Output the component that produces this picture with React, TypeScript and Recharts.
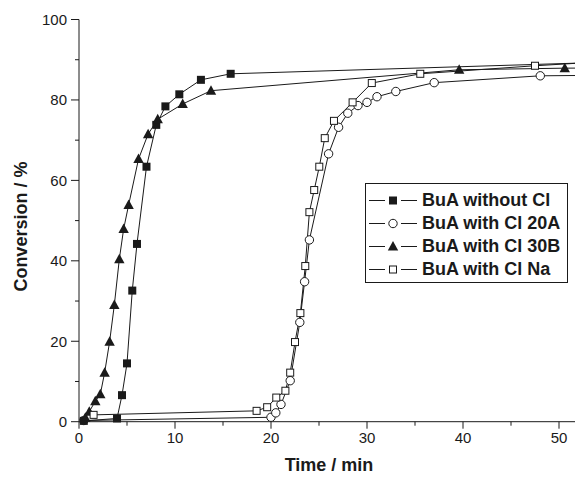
import React from 'react';
import { LineChart, Line, XAxis, YAxis, Legend } from 'recharts';

// time (min) / conversion (%); last point of each run lies past the right edge
const timeNoCl = [0.5, 3.96, 4.48, 5.0, 5.55, 6.04, 7.03, 8.05, 9.0, 10.45, 12.7, 15.8, 58];
const convNoCl = [0.2, 0.8, 6.6, 14.5, 32.6, 44.2, 63.4, 73.8, 78.4, 81.4, 85.0, 86.5, 89.6];

const time20A = [0.5, 20.0, 20.5, 21.04, 22.0, 23.0, 23.5, 24.0, 26.0, 27.04, 28.0, 29.06, 30.0, 31.04, 33.0, 37.0, 48.05, 58];
const conv20A = [0.3, 1.1, 2.2, 4.3, 10.2, 24.7, 34.8, 45.2, 66.6, 73.2, 76.7, 78.6, 79.4, 80.8, 82.1, 84.3, 86.0, 86.2];

const time30B = [0.66, 1.07, 1.7, 2.22, 2.67, 3.19, 3.68, 4.2, 4.65, 5.17, 6.2, 7.2, 8.2, 10.8, 13.75, 39.6, 50.6, 58];
const conv30B = [1.0, 2.5, 5.1, 6.8, 12.2, 19.9, 29.0, 40.4, 47.9, 53.9, 65.3, 71.5, 75.2, 79.0, 82.3, 87.5, 87.9, 88.0];

const timeNa = [1.52, 18.5, 19.6, 20.55, 21.5, 22.0, 22.5, 23.06, 23.57, 24.0, 24.5, 25.03, 25.6, 26.56, 28.5, 30.5, 35.55, 47.5, 58];
const convNa = [1.7, 2.7, 3.6, 6.0, 7.7, 12.2, 19.8, 27.0, 38.7, 52.1, 57.6, 63.4, 70.5, 74.8, 79.4, 84.2, 86.5, 88.5, 90.0];

const xTicks = [0, 5, 10, 15, 20, 25, 30, 35, 40, 45, 50, 55];
const yTicks = [0, 10, 20, 30, 40, 50, 60, 70, 80, 90, 100];

const FONT = '"Liberation Sans", Arial, Helvetica, sans-serif';
const INK = '#1a1a1a';

const toPoints = (xs: number[], ys: number[]) => xs.map((t, i) => ({ t, c: ys[i] }));

type Shape = 'filledSquare' | 'circle' | 'triangle' | 'openSquare';

function Marker({ cx, cy, shape }: { cx: number; cy: number; shape: Shape }) {
    if (shape === 'filledSquare') {
        return <rect x={cx - 4} y={cy - 4} width={8} height={8} fill={INK} />;
    }
    if (shape === 'openSquare') {
        return <rect x={cx - 3.5} y={cy - 3.5} width={7} height={7} fill="#fff" stroke={INK} strokeWidth={1} />;
    }
    if (shape === 'circle') {
        return <circle cx={cx} cy={cy} r={4.2} fill="#fff" stroke={INK} strokeWidth={1} />;
    }
    return <polygon points={`${cx},${cy - 5.5} ${cx + 5.2},${cy + 4} ${cx - 5.2},${cy + 4}`} fill={INK} />;
}

const series: { name: string; shape: Shape; data: { t: number; c: number }[] }[] = [
    { name: 'BuA with Cl 20A', shape: 'circle', data: toPoints(time20A, conv20A) },
    { name: 'BuA without Cl', shape: 'filledSquare', data: toPoints(timeNoCl, convNoCl) },
    { name: 'BuA with Cl 30B', shape: 'triangle', data: toPoints(time30B, conv30B) },
    { name: 'BuA with Cl Na', shape: 'openSquare', data: toPoints(timeNa, convNa) },
];

const legendOrder = ['BuA without Cl', 'BuA with Cl 20A', 'BuA with Cl 30B', 'BuA with Cl Na'];

function XTick(props: any) {
    const { x, y, payload } = props;
    const v = payload.value;
    const major = v % 10 === 0;
    const axisY = y - 11;
    return (
        <g>
            <line x1={x} x2={x} y1={axisY} y2={axisY + (major ? 7 : 4)} stroke={INK} />
            {major && (
                <text x={x} y={y} dy="0.71em" textAnchor="middle" fontSize={15} fontFamily={FONT} fill={INK}>
                    {v}
                </text>
            )}
        </g>
    );
}

function YTick(props: any) {
    const { x, y, payload } = props;
    const v = payload.value;
    const major = v % 20 === 0;
    const axisX = x + 12;
    return (
        <g>
            <line x1={axisX - (major ? 8 : 4)} x2={axisX} y1={y} y2={y} stroke={INK} />
            {major && (
                <text x={x} y={y} dy="0.355em" textAnchor="end" fontSize={15} fontFamily={FONT} fill={INK}>
                    {v}
                </text>
            )}
        </g>
    );
}

function YTitle(props: any) {
    const vb = props.viewBox;
    const x = vb.x + 21;
    const y = vb.y + vb.height / 2 + 6;
    return (
        <text x={x} y={y} transform={`rotate(-90 ${x} ${y})`} dy="0.355em" textAnchor="middle"
            fontSize={18} fontWeight="bold" fontFamily={FONT} fill={INK}>
            Conversion / %
        </text>
    );
}

function XTitle(props: any) {
    const vb = props.viewBox;
    return (
        <text x={vb.x + 250} y={vb.y + 43} dy="0.355em" textAnchor="middle"
            fontSize={18} fontWeight="bold" fontFamily={FONT} fill={INK}>
            Time / min
        </text>
    );
}

function LegendBox() {
    return (
        <div style={{
            boxSizing: 'border-box', width: 203, height: 100, border: `1px solid ${INK}`,
            background: '#fff', paddingTop: 5, paddingLeft: 3, fontFamily: FONT,
        }}>
            {legendOrder.map((name) => {
                const s = series.find((d) => d.name === name)!;
                return (
                    <div key={name} style={{ display: 'flex', alignItems: 'center', height: 23 }}>
                        <svg width={48} height={23} style={{ flex: 'none' }}>
                            <line x1={0} x2={16} y1={11.5} y2={11.5} stroke={INK} />
                            <line x1={32} x2={48} y1={11.5} y2={11.5} stroke={INK} />
                            <Marker cx={24} cy={11.5} shape={s.shape} />
                        </svg>
                        <span style={{ marginLeft: 5, fontSize: 18, fontWeight: 'bold', color: INK, whiteSpace: 'nowrap' }}>
                            {name}
                        </span>
                    </div>
                );
            })}
        </div>
    );
}

export default function App() {
    return (
        <div style={{ position: 'absolute', left: 0, top: 0, width: 575, height: 480, overflow: 'hidden', background: '#fff' }}>
            <LineChart width={655} height={480} margin={{ top: 19.5, right: 0, bottom: 0, left: 0 }}>
                <XAxis
                    type="number"
                    dataKey="t"
                    domain={[0, 60]}
                    ticks={xTicks}
                    tickSize={8}
                    tickMargin={3}
                    tickLine={false}
                    height={58.3}
                    axisLine={{ stroke: INK }}
                    tick={<XTick />}
                    label={<XTitle />}
                />
                <YAxis
                    type="number"
                    domain={[0, 100]}
                    ticks={yTicks}
                    width={79}
                    tickSize={8}
                    tickMargin={4}
                    tickLine={false}
                    axisLine={{ stroke: INK }}
                    tick={<YTick />}
                    label={<YTitle />}
                />
                {series.map((s) => (
                    <Line
                        key={s.name}
                        data={s.data}
                        dataKey="c"
                        name={s.name}
                        type="linear"
                        stroke={INK}
                        strokeWidth={1}
                        isAnimationActive={false}
                        dot={(p: any) => <Marker key={`${s.shape}-${p.index}`} cx={p.cx} cy={p.cy} shape={s.shape} />}
                    />
                ))}
                <Legend
                    layout="vertical"
                    align="center"
                    verticalAlign="middle"
                    content={<LegendBox />}
                    wrapperStyle={{ left: 365, top: 183, width: 203, height: 100 }}
                />
            </LineChart>
        </div>
    );
}
